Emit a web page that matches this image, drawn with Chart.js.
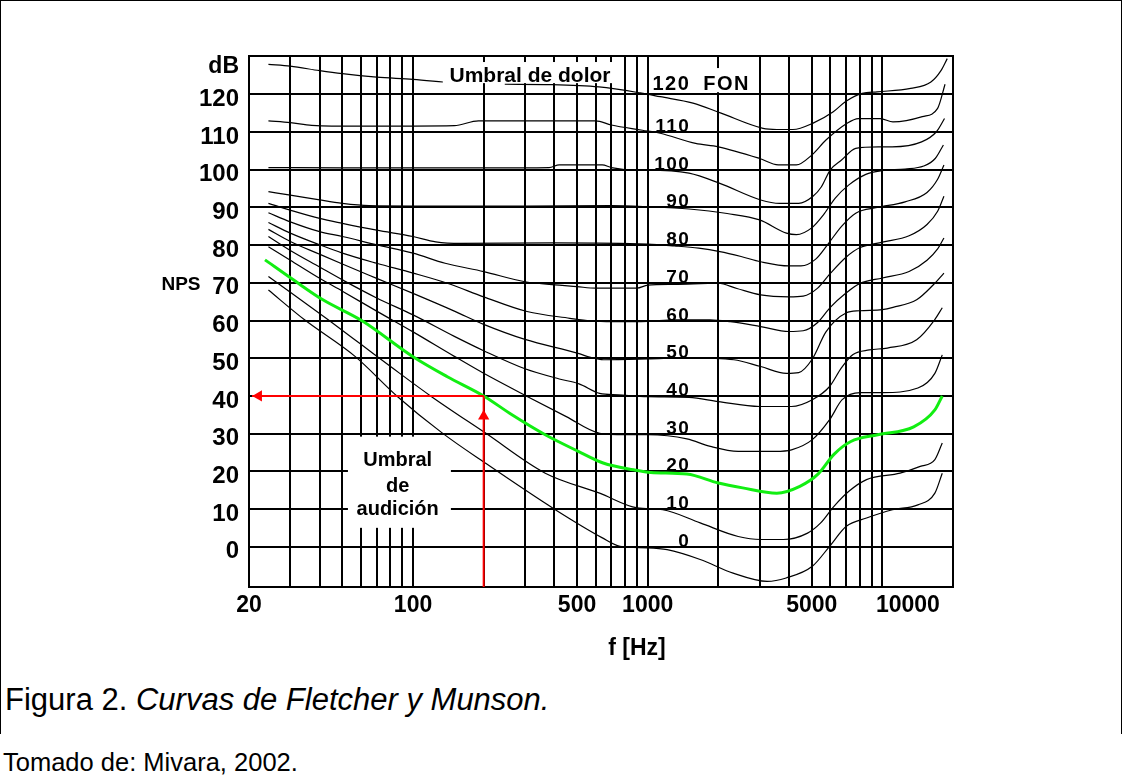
<!DOCTYPE html>
<html lang="es">
<head>
<meta charset="utf-8">
<title>Curvas de Fletcher y Munson</title>
<script src="https://cdn.jsdelivr.net/npm/chart.js@4.4.1/dist/chart.umd.min.js"></script>
<style>
  html, body { margin: 0; padding: 0; background: #fff; }
  #page { position: relative; width: 1123px; height: 776px; overflow: hidden; font-family: 'Liberation Sans', Arial, sans-serif; }
  #frame { position: absolute; left: 0; top: 0; width: 1120px; height: 733px; border: 1px solid #000; border-bottom: none; }
  #chart-wrap { position: absolute; left: 0; top: 0; width: 1123px; height: 660px; }
  .caption { position: absolute; left: 5px; top: 682px; font-size: 31px; color: #000; white-space: nowrap; }
  .source { position: absolute; left: 3px; top: 748px; font-size: 25.5px; color: #000; white-space: nowrap; }
</style>
</head>
<body>
<div id="page">
  <div id="frame"></div>
  <div id="chart-wrap"><canvas id="nps-chart" width="1123" height="660"></canvas></div>
  <div class="caption">Figura 2. <i>Curvas de Fletcher y Munson.</i></div>
  <div class="source">Tomado de: Mivara, 2002.</div>
</div>
<script>
// rejilla y etiquetas de los ejes
const gridFreqs = [20, 30, 40, 50, 60, 70, 80, 90, 100, 200, 300, 400, 500, 600, 700, 800, 900,
                   1000, 2000, 3000, 4000, 5000, 6000, 7000, 8000, 9000, 10000, 20000];
const freqLabels = [20, 100, 500, 1000, 5000, 10000];
const dbLevels = [0, 10, 20, 30, 40, 50, 60, 70, 80, 90, 100, 110, 120];
const phonLevels = [0, 10, 20, 30, 40, 50, 60, 70, 80, 90, 100, 110];

// curvas isofonicas, pares [Hz, dB]
const phon0 = [[24.2, 68.1], [34.5, 60.2], [56.6, 50.5], [86, 39.8], [133, 30.2], [203, 22.2], [404, 9.8],
  [638, 2.4], [762, 0.1], [1000, -0.3], [1210, -0.8], [1674, -3.4], [2312, -7.0], [3230, -9.2], [3890, -8.3],
  [5030, -5.2], [5960, 0.1], [7020, 5.4], [8560, 7.6], [11050, 9.8], [14170, 11.1], [16740, 14.2], [18000, 19.5]];
const phon10 = [[24.2, 71.7], [30, 67.5], [43.5, 60.2], [60, 53.7], [81, 47.6], [120, 39.8], [203, 30.2],
  [366, 19.5], [624, 14.2], [902, 10.3], [1160, 9.8], [1674, 6.3], [2430, 2.7], [3030, 1.9], [3780, 1.9],
  [4800, 3.6], [5460, 6.3], [6220, 10.7], [7200, 14.7], [8560, 17.8], [11900, 19.5], [14500, 21.3],
  [16740, 23.1], [18000, 27.5]];
const phon20 = [[23.4, 76.1], [30.9, 70.8], [41.3, 65.5], [60.4, 60.0], [100, 50.4], [140, 45.1], [200, 40.0],
  [264, 35.0], [366, 29.7], [506, 25.3], [646, 22.2], [871, 20.4], [1030, 19.7], [1470, 19.3], [2000, 16.9],
  [2540, 15.6], [3550, 14.2], [4450, 16.0], [5330, 19.3], [6220, 24.5], [7340, 27.9], [9560, 29.7],
  [13600, 31.8], [16740, 36.3], [18000, 40.0]];
const phon30 = [[24.2, 79.6], [30, 76.0], [40, 71.2], [50, 67.8], [70, 62.5], [100, 57.0], [150, 50.5],
  [200, 46.0], [308, 39.8], [450, 34.5], [624, 30.1], [800, 29.7], [1000, 29.7], [1470, 28.6], [1850, 26.6],
  [2430, 25.3], [3500, 25.3], [4100, 25.7], [5030, 28.4], [5960, 33.7], [6740, 39.0], [8050, 40.9],
  [10000, 40.9], [14170, 42.1], [16740, 46.0], [18000, 50.9]];
const phon40 = [[24.2, 82.3], [30, 78.6], [40, 74.2], [50, 70.8], [70, 66.0], [100, 61.5], [150, 55.8],
  [200, 52.0], [300, 47.2], [420, 44.5], [510, 43.2], [624, 40.7], [750, 40.3], [1000, 39.8], [1500, 39.6],
  [2000, 38.5], [3000, 37.2], [4100, 37.2], [5030, 39.0], [5960, 42.5], [6700, 47.5], [7500, 51.0],
  [8800, 52.2], [10500, 52.7], [14000, 54.9], [16700, 60.2], [18000, 63.4]];
const phon50 = [[24.2, 84.2], [30, 81.0], [40, 77.6], [50, 75.0], [70, 71.2], [100, 67.2], [150, 62.5],
  [200, 59.0], [300, 55.0], [505, 51.3], [560, 50.4], [650, 49.6], [1000, 49.8], [1500, 50.1], [2330, 49.6],
  [3030, 47.8], [3900, 46.0], [4400, 46.2], [5030, 49.8], [5750, 57.0], [7000, 62.0], [8000, 62.6],
  [10000, 62.9], [11100, 63.5], [14000, 65.5], [16500, 69.5], [18300, 72.6]];
const phon60 = [[24.2, 86.0], [30, 83.2], [40, 80.1], [50, 77.9], [70, 75.2], [100, 72.6], [140, 69.9],
  [200, 66.3], [306, 62.4], [466, 60.6], [570, 59.9], [710, 59.7], [1000, 59.8], [1300, 60.2], [1840, 60.2],
  [2250, 59.7], [3030, 58.4], [4000, 57.1], [4600, 57.3], [5300, 59.5], [6000, 63.5], [7000, 67.3],
  [8000, 69.8], [10000, 71.3], [13000, 73.0], [15500, 76.0], [17200, 79.0], [18300, 81.9]];
const phon70 = [[24.2, 88.6], [30, 86.2], [40, 83.6], [50, 82.3], [70, 80.1], [100, 77.9], [137, 75.2],
  [200, 73.0], [300, 70.3], [420, 69.4], [500, 69.0], [600, 68.6], [900, 68.6], [1000, 69.4], [1300, 69.6],
  [2000, 69.9], [2400, 68.5], [3030, 66.8], [4000, 66.3], [4600, 66.5], [5300, 68.6], [6000, 72.5],
  [7000, 76.8], [8000, 79.3], [10000, 80.8], [13000, 82.5], [15500, 85.5], [17200, 89.0], [18300, 93.0]];
const phon80 = [[24.2, 91.1], [30, 89.3], [40, 87.1], [50, 85.8], [70, 84.0], [100, 82.3], [125, 80.9],
  [160, 80.5], [400, 80.6], [1000, 80.3], [1300, 79.8], [1650, 79.2], [2030, 78.3], [2500, 77.0],
  [3030, 75.6], [4000, 74.5], [4500, 74.5], [5200, 76.3], [5900, 80.5], [6700, 85.0], [7700, 88.5],
  [9500, 90.0], [12500, 91.5], [15500, 94.0], [17200, 97.5], [18300, 101.3]];
const phon90 = [[24.2, 94.2], [30, 93.3], [40, 92.0], [50, 91.1], [65, 90.5], [100, 90.4], [300, 90.4],
  [700, 90.5], [1000, 90.2], [1500, 89.6], [2180, 88.4], [3000, 86.7], [3900, 83.2], [4300, 82.8],
  [5000, 84.6], [5600, 88.0], [6300, 92.5], [7200, 96.0], [8500, 98.8], [10000, 99.8], [12500, 100.2],
  [15000, 101.0], [16800, 103.0], [18200, 106.6]];
const phon100 = [[24.2, 100.6], [50, 100.5], [100, 100.5], [200, 100.5], [380, 100.6], [420, 101.3],
  [640, 101.3], [700, 100.6], [900, 99.9], [1000, 99.9], [1500, 99.1], [2030, 96.4], [3030, 92.0],
  [3650, 91.1], [4400, 91.1], [5050, 92.9], [5500, 95.5], [6000, 100.0], [6700, 102.6], [7700, 105.7],
  [9600, 106.1], [11000, 106.1], [14700, 107.4], [17000, 110.1], [18400, 113.6]];
const phon110 = [[24.2, 113.0], [30, 112.5], [37, 111.8], [45, 111.6], [100, 111.6], [150, 111.7],
  [190, 113.0], [300, 113.0], [600, 113.0], [700, 111.9], [950, 110.5], [1130, 109.7], [1600, 107.0],
  [2000, 106.1], [3000, 103.0], [3600, 101.3], [4300, 101.3], [5000, 103.9], [5750, 107.9], [7050, 112.3],
  [7900, 113.6], [9800, 113.6], [11100, 112.7], [14800, 114.1], [17200, 116.3], [18500, 122.7]];
const phon120 = [[24.2, 128.0], [30, 127.5], [40, 126.3], [50, 125.5], [70, 124.6], [100, 124.0],
  [134, 123.3], [180, null], [246, 122.7], [390, 122.6], [620, 122.0], [930, 120.4], [1130, 119.4],
  [1560, 117.7], [2040, 115.1], [3100, 111.0], [3550, 110.7], [4160, 110.7], [5070, 112.4], [6180, 115.4],
  [7000, 118.2], [8200, 120.3], [9500, 120.7], [13200, 121.6], [16100, 123.3], [17800, 126.4], [18900, 129.5]];

// flechas rojas: 200 Hz -> 40 dB
const arrowH = [[20.6, 40], [200, 40]];
const arrowV = [[200, -10.7], [200, 40]];
const arrowHeads = [[22.0, 40], [200, 34.6]];

const toPts = arr => arr.map(([f, db]) => ({ x: f, y: db }));

const blackCurves = [phon0, phon10, phon30, phon40, phon50, phon60, phon70, phon80, phon90, phon100, phon110, phon120];

const datasets = [
  {
    data: toPts(arrowHeads), showLine: false, pointStyle: 'triangle', pointRadius: 6.5,
    pointRotation: [-90, 0], pointBackgroundColor: '#ff0000', pointBorderColor: '#ff0000', pointBorderWidth: 0
  },
  { data: toPts(arrowH), borderColor: '#ff0000', borderWidth: 2, tension: 0, pointRadius: 0 },
  { data: toPts(arrowV), borderColor: '#ff0000', borderWidth: 2, tension: 0, pointRadius: 0 },
  { data: toPts(phon20), borderColor: '#12ee12', borderWidth: 3, cubicInterpolationMode: 'monotone', pointRadius: 0 }
].concat(blackCurves.map(c => ({
  data: toPts(c), borderColor: '#000', borderWidth: 1.2, cubicInterpolationMode: 'monotone', pointRadius: 0
})));

const FONT = '"Liberation Sans", Arial, sans-serif';

// textos y recuadros blancos del dibujo
const textLayer = {
  id: 'textLayer',
  beforeDatasetsDraw(chart) {
    const { ctx, chartArea: a, scales: { x, y } } = chart;
    ctx.save();
    ctx.fillStyle = '#fff';
    const clear = (f1, f2, d1, d2) => {
      const l = x.getPixelForValue(f1), r = x.getPixelForValue(f2);
      const t = y.getPixelForValue(d1), b = y.getPixelForValue(d2);
      ctx.fillRect(l, t, r - l, b - t);
    };
    clear(139.6, 732, 128.6, 123.0);
    clear(1044, 2734, 127.0, 120.6);
    clear(52.8, 145, 29.2, 5.0);
    ctx.strokeStyle = '#000';
    ctx.lineWidth = 2;
    ctx.strokeRect(a.left, a.top, a.right - a.left, a.bottom - a.top);
    ctx.restore();
  },
  afterDraw(chart) {
    const { ctx, chartArea: a, scales: { x, y } } = chart;
    ctx.save();
    ctx.fillStyle = '#000';
    ctx.textBaseline = 'alphabetic';

    ctx.font = 'bold 19px ' + FONT;
    if ('letterSpacing' in ctx) ctx.letterSpacing = '1.5px';
    ctx.textAlign = 'right';
    phonLevels.forEach(p => ctx.fillText(String(p), x.getPixelForValue(1520), y.getPixelForValue(p)));

    ctx.font = 'bold 20px ' + FONT;
    ctx.fillText('120', x.getPixelForValue(1520), y.getPixelForValue(121.1));
    ctx.textAlign = 'left';
    ctx.fillText('FON', x.getPixelForValue(1724), y.getPixelForValue(121.1));
    if ('letterSpacing' in ctx) ctx.letterSpacing = '0px';

    ctx.font = 'bold 21px ' + FONT;
    ctx.fillText('Umbral de dolor', x.getPixelForValue(143), y.getPixelForValue(123.3));

    ctx.font = 'bold 20px ' + FONT;
    ctx.textAlign = 'center';
    const cx = x.getPixelForValue(86);
    ctx.fillText('Umbral', cx, y.getPixelForValue(21.3));
    ctx.fillText('de', cx, y.getPixelForValue(14.6));
    ctx.fillText('audición', cx, y.getPixelForValue(8.5));

    ctx.font = 'bold 23px ' + FONT;
    ctx.textAlign = 'right';
    ctx.fillText('dB', a.left - 10, y.getPixelForValue(125.6));

    ctx.font = 'bold 19px ' + FONT;
    ctx.textAlign = 'center';
    ctx.fillText('NPS', a.left - 68, y.getPixelForValue(68.1));

    ctx.font = 'bold 23px ' + FONT;
    ctx.fillText('f [Hz]', x.getPixelForValue(900), a.bottom + 68);
    ctx.restore();
  }
};

const ctx = document.getElementById('nps-chart').getContext('2d');
const chart = new Chart(ctx, {
  type: 'line',
  data: { datasets: datasets },
  options: {
    responsive: false,
    animation: false,
    events: [],
    layout: { padding: { left: 189, right: 170, top: 56, bottom: 3 } },
    plugins: { legend: { display: false }, tooltip: { enabled: false } },
    scales: {
      x: {
        type: 'logarithmic',
        min: 20,
        max: 20000,
        afterBuildTicks: scale => { scale.ticks = gridFreqs.map(v => ({ value: v })); },
        afterFit: scale => { scale.height = 70; },
        grid: { color: '#000', lineWidth: 2, drawTicks: false },
        border: { color: '#000', width: 2 },
        ticks: {
          autoSkip: false,
          maxRotation: 0,
          padding: 5,
          color: '#000',
          font: { family: FONT, size: 23, weight: 'bold' },
          callback: v => {
            if (!freqLabels.includes(v)) return '';
            return v === 10000 ? '        10000' : String(v);
          }
        }
      },
      y: {
        type: 'linear',
        min: -10.7,
        max: 130.2,
        afterBuildTicks: scale => { scale.ticks = dbLevels.map(v => ({ value: v })); },
        afterFit: scale => { scale.width = 60; },
        grid: { color: '#000', lineWidth: 2, drawTicks: false },
        border: { color: '#000', width: 2 },
        ticks: {
          padding: 10,
          labelOffset: 5,
          color: '#000',
          font: { family: FONT, size: 24, weight: 'bold' },
          callback: v => String(v)
        }
      }
    }
  },
  plugins: [textLayer]
});
</script>
</body>
</html>
